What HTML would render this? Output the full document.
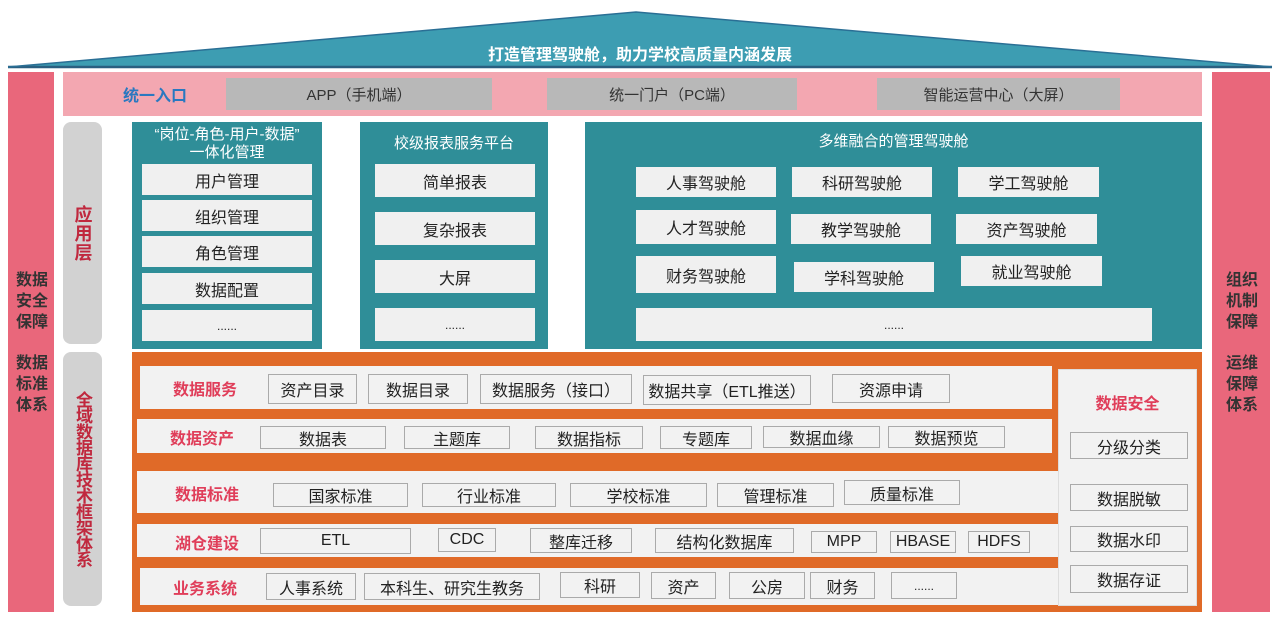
<!DOCTYPE html>
<html><head><meta charset="utf-8"><style>
*{margin:0;padding:0;box-sizing:border-box}
body{width:1280px;height:625px;background:#fff;position:relative;overflow:hidden;font-family:"Liberation Sans","Noto Sans CJK SC",sans-serif}
.a{position:absolute}
.c{position:absolute;display:flex;align-items:center;justify-content:center;text-align:center}
.w{background:#f0f0f0;color:#222;font-size:16px}
.b{background:#f2f2f2;border:1px solid #aaa;color:#222;font-size:16px}
.g{background:#b8b8b8;color:#333;font-size:15px}
.r{color:#e03e5a;font-weight:bold;font-size:16px}
.v{writing-mode:vertical-rl;letter-spacing:1px}
.pk{background:#e9677b}
.t{background:#2f8e98}
.th{color:#fff;font-size:15px}
.row{background:#f2f2f2}
.side{color:#333;font-weight:bold;font-size:16px;line-height:21px;text-align:center}
</style></head><body>
<svg class="a" style="left:0;top:0" width="1280" height="72">
<polygon points="8,67 636,12 1272,67" fill="#3d9db2"/>
<line x1="8" y1="67" x2="1272" y2="67" stroke="#2a5f80" stroke-width="2.5"/>
<polyline points="8,67 636,12 1272,67" fill="none" stroke="#2a6f95" stroke-width="1.5"/>
</svg>
<div class="c" style="left:380px;top:41px;width:520px;height:24px;color:#fff;font-weight:bold;font-size:16px">打造管理驾驶舱，助力学校高质量内涵发展</div>

<div class="a pk" style="left:8px;top:72px;width:46px;height:540px"></div>
<div class="a pk" style="left:1212px;top:72px;width:58px;height:540px"></div>
<div class="a side" style="left:13px;top:270px;width:38px">数据<br>安全<br>保障</div>
<div class="a side" style="left:13px;top:353px;width:38px">数据<br>标准<br>体系</div>
<div class="a side" style="left:1221px;top:270px;width:42px">组织<br>机制<br>保障</div>
<div class="a side" style="left:1221px;top:353px;width:42px">运维<br>保障<br>体系</div>

<div class="a" style="left:63px;top:72px;width:1139px;height:44px;background:#f3a7b1"></div>
<div class="c" style="left:110px;top:80px;width:90px;height:28px;color:#2a78c0;font-weight:bold;font-size:16px">统一入口</div>
<div class="c g" style="left:226px;top:78px;width:266px;height:32px">APP（手机端）</div>
<div class="c g" style="left:547px;top:78px;width:250px;height:32px">统一门户（PC端）</div>
<div class="c g" style="left:877px;top:78px;width:243px;height:32px">智能运营中心（大屏）</div>

<div class="c" style="left:63px;top:122px;width:39px;height:222px;background:#d2d2d2;border-radius:8px"><span class="v" style="color:#c0283e;font-weight:bold;font-size:18px">应用层</span></div>
<div class="c" style="left:63px;top:352px;width:39px;height:254px;background:#d2d2d2;border-radius:8px"><span class="v" style="color:#c0283e;font-weight:bold;font-size:17px;letter-spacing:-1px">全域数据库技术框架体系</span></div>

<div class="a t" style="left:132px;top:122px;width:190px;height:227px"></div>
<div class="c th" style="left:132px;top:124px;width:190px;height:40px;line-height:18px">“岗位-角色-用户-数据”<br>一体化管理</div>
<div class="c w" style="left:142px;top:164px;width:170px;height:31px">用户管理</div>
<div class="c w" style="left:142px;top:200px;width:170px;height:31px">组织管理</div>
<div class="c w" style="left:142px;top:236px;width:170px;height:31px">角色管理</div>
<div class="c w" style="left:142px;top:273px;width:170px;height:31px">数据配置</div>
<div class="c w" style="left:142px;top:310px;width:170px;height:31px;font-size:12px">......</div>

<div class="a t" style="left:360px;top:122px;width:188px;height:227px"></div>
<div class="c th" style="left:360px;top:130px;width:188px;height:24px">校级报表服务平台</div>
<div class="c w" style="left:375px;top:164px;width:160px;height:33px">简单报表</div>
<div class="c w" style="left:375px;top:212px;width:160px;height:33px">复杂报表</div>
<div class="c w" style="left:375px;top:260px;width:160px;height:33px">大屏</div>
<div class="c w" style="left:375px;top:308px;width:160px;height:33px;font-size:12px">......</div>

<div class="a t" style="left:585px;top:122px;width:617px;height:227px"></div>
<div class="c th" style="left:585px;top:128px;width:617px;height:24px">多维融合的管理驾驶舱</div>
<div class="c w" style="left:636px;top:167px;width:140px;height:30px">人事驾驶舱</div>
<div class="c w" style="left:792px;top:167px;width:140px;height:30px">科研驾驶舱</div>
<div class="c w" style="left:958px;top:167px;width:141px;height:30px">学工驾驶舱</div>
<div class="c w" style="left:636px;top:210px;width:140px;height:34px">人才驾驶舱</div>
<div class="c w" style="left:791px;top:214px;width:140px;height:30px">教学驾驶舱</div>
<div class="c w" style="left:956px;top:214px;width:141px;height:30px">资产驾驶舱</div>
<div class="c w" style="left:636px;top:256px;width:140px;height:37px">财务驾驶舱</div>
<div class="c w" style="left:794px;top:262px;width:140px;height:30px">学科驾驶舱</div>
<div class="c w" style="left:961px;top:256px;width:141px;height:30px">就业驾驶舱</div>
<div class="c w" style="left:636px;top:308px;width:516px;height:33px;font-size:12px">......</div>

<div class="a" style="left:132px;top:352px;width:1070px;height:260px;background:#e06a28"></div>
<div class="a row" style="left:140px;top:366px;width:912px;height:43px"></div>
<div class="a row" style="left:137px;top:419px;width:915px;height:34px"></div>
<div class="a row" style="left:137px;top:471px;width:921px;height:42px"></div>
<div class="a row" style="left:137px;top:524px;width:921px;height:33px"></div>
<div class="a row" style="left:140px;top:568px;width:918px;height:37px"></div>
<div class="a row" style="left:1058px;top:369px;width:139px;height:237px;border:1px solid #ddd"></div>

<div class="c r" style="left:160px;top:375px;width:90px;height:26px">数据服务</div>
<div class="c r" style="left:157px;top:425px;width:90px;height:24px">数据资产</div>
<div class="c r" style="left:162px;top:481px;width:90px;height:24px">数据标准</div>
<div class="c r" style="left:162px;top:530px;width:90px;height:24px">湖仓建设</div>
<div class="c r" style="left:160px;top:574px;width:90px;height:26px">业务系统</div>

<div class="c b" style="left:268px;top:374px;width:89px;height:30px">资产目录</div>
<div class="c b" style="left:368px;top:374px;width:100px;height:30px">数据目录</div>
<div class="c b" style="left:480px;top:374px;width:152px;height:30px">数据服务（接口）</div>
<div class="c b" style="left:643px;top:375px;width:168px;height:30px">数据共享（ETL推送）</div>
<div class="c b" style="left:832px;top:374px;width:118px;height:29px">资源申请</div>

<div class="c b" style="left:260px;top:426px;width:126px;height:23px">数据表</div>
<div class="c b" style="left:404px;top:426px;width:106px;height:23px">主题库</div>
<div class="c b" style="left:535px;top:426px;width:108px;height:23px">数据指标</div>
<div class="c b" style="left:660px;top:426px;width:92px;height:23px">专题库</div>
<div class="c b" style="left:763px;top:426px;width:117px;height:22px">数据血缘</div>
<div class="c b" style="left:888px;top:426px;width:117px;height:22px">数据预览</div>

<div class="c b" style="left:273px;top:483px;width:135px;height:24px">国家标准</div>
<div class="c b" style="left:422px;top:483px;width:134px;height:24px">行业标准</div>
<div class="c b" style="left:570px;top:483px;width:137px;height:24px">学校标准</div>
<div class="c b" style="left:717px;top:483px;width:117px;height:24px">管理标准</div>
<div class="c b" style="left:844px;top:480px;width:116px;height:25px">质量标准</div>

<div class="c b" style="left:260px;top:528px;width:151px;height:26px">ETL</div>
<div class="c b" style="left:438px;top:528px;width:58px;height:24px">CDC</div>
<div class="c b" style="left:530px;top:528px;width:102px;height:25px">整库迁移</div>
<div class="c b" style="left:655px;top:528px;width:139px;height:25px">结构化数据库</div>
<div class="c b" style="left:811px;top:531px;width:66px;height:22px">MPP</div>
<div class="c b" style="left:890px;top:531px;width:66px;height:22px">HBASE</div>
<div class="c b" style="left:968px;top:531px;width:62px;height:22px">HDFS</div>

<div class="c b" style="left:266px;top:573px;width:90px;height:27px">人事系统</div>
<div class="c b" style="left:364px;top:573px;width:176px;height:27px">本科生、研究生教务</div>
<div class="c b" style="left:560px;top:572px;width:80px;height:26px">科研</div>
<div class="c b" style="left:651px;top:572px;width:65px;height:27px">资产</div>
<div class="c b" style="left:729px;top:572px;width:76px;height:27px">公房</div>
<div class="c b" style="left:810px;top:572px;width:65px;height:27px">财务</div>
<div class="c b" style="left:891px;top:572px;width:66px;height:27px;font-size:12px">......</div>

<div class="c r" style="left:1058px;top:390px;width:139px;height:24px">数据安全</div>
<div class="c b" style="left:1070px;top:432px;width:118px;height:27px">分级分类</div>
<div class="c b" style="left:1070px;top:484px;width:118px;height:27px">数据脱敏</div>
<div class="c b" style="left:1070px;top:526px;width:118px;height:26px">数据水印</div>
<div class="c b" style="left:1070px;top:565px;width:118px;height:28px">数据存证</div>
</body></html>
